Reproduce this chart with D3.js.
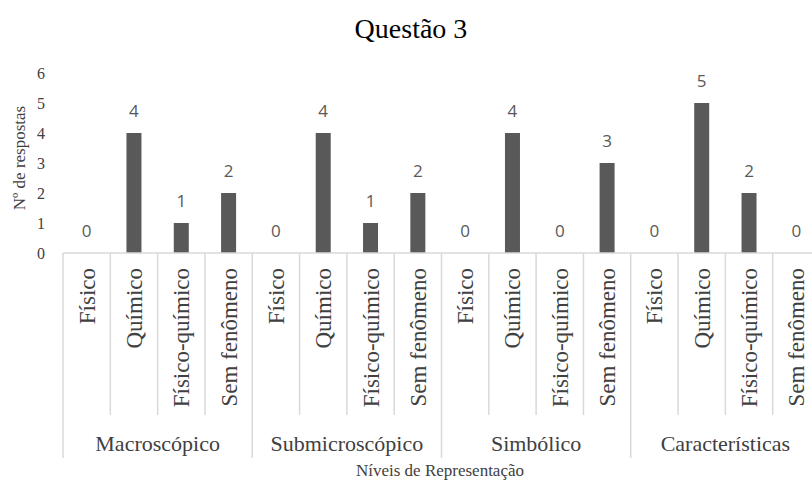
<!DOCTYPE html>
<html><head><meta charset="utf-8">
<script src="https://cdn.jsdelivr.net/npm/d3@7"></script>
<style>body{margin:0;background:#fff}svg{display:block}
.sf{font-family:"Liberation Serif","DejaVu Serif",serif}
.ss{font-family:"Open Sans","Liberation Sans",sans-serif}
</style>
</head><body><svg id="c" width="812" height="482"></svg>
<script>
const title = "Questão 3";
const groups = ["Macroscópico", "Submicroscópico", "Simbólico", "Características"];
const subcats = ["Físico", "Químico", "Físico-químico", "Sem fenômeno"];
const macroscopico = [0, 4, 1, 2];
const submicroscopico = [0, 4, 1, 2];
const simbolico = [0, 4, 0, 3];
const caracteristicas = [0, 5, 2, 0];
const yTicks = [0, 1, 2, 3, 4, 5, 6];
const yLabel = "Nº de respostas";
const xLabel = "Níveis de Representação";

const seriesByGroup = [macroscopico, submicroscopico, simbolico, caracteristicas];
const rows = [];
groups.forEach((g, gi) => subcats.forEach((s, si) => rows.push({key: gi + "|" + si, group: g, gi, sub: s, value: seriesByGroup[gi][si]})));

const svg = d3.select("#c");
const left = 63, right = 820, axisY = 253;
const x = d3.scaleBand().domain(rows.map(d => d.key)).range([left, right]).padding(0);
const y = d3.scaleLinear().domain([0, 6]).range([axisY, 73]);
const bw = x.bandwidth();
const grid = "#d9d9d9";

// title
svg.append("text").attr("class", "sf").attr("x", 411).attr("y", 38).attr("text-anchor", "middle")
  .attr("font-size", 28).attr("fill", "#000").text(title);

// y axis tick labels
const yAxis = d3.axisLeft(y).tickValues(yTicks).tickSize(0).tickPadding(0).tickFormat(d3.format("d"));
const ya = svg.append("g").attr("transform", "translate(45,0)").call(yAxis);
ya.attr("font-family", null).attr("font-size", null);
ya.select(".domain").remove();
ya.selectAll("text").attr("class", "sf").attr("font-size", 16).attr("fill", "#404040");

// y label
svg.append("text").attr("class", "sf").attr("transform", "translate(25,158) rotate(-90)").attr("text-anchor", "middle")
  .attr("font-size", 17).attr("fill", "#404040").text(yLabel);

// bars
const barW = 15;
svg.append("g").selectAll("rect").data(rows).join("rect")
  .attr("x", d => x(d.key) + bw / 2 - barW / 2).attr("width", barW)
  .attr("y", d => y(d.value)).attr("height", d => y(0) - y(d.value)).attr("fill", "#595959");

// value labels
svg.append("g").selectAll("text").data(rows).join("text").attr("class", "ss")
  .attr("x", d => x(d.key) + bw / 2).attr("y", d => y(d.value) - 16).attr("text-anchor", "middle")
  .attr("font-size", 17).attr("fill", "#595959").text(d => d.value);

// axis line
svg.append("line").attr("x1", left).attr("x2", right).attr("y1", axisY).attr("y2", axisY)
  .attr("stroke", grid).attr("stroke-width", 1.5);

// separators
const sep = svg.append("g").attr("stroke", grid).attr("stroke-width", 1.5);
rows.forEach((d, i) => {
  const xx = x(d.key);
  const isGroup = i % subcats.length === 0;
  sep.append("line").attr("x1", xx).attr("x2", xx).attr("y1", axisY).attr("y2", isGroup ? 458 : 415);
});
sep.append("line").attr("x1", right).attr("x2", right).attr("y1", axisY).attr("y2", 458);

// category labels
svg.append("g").selectAll("text").data(rows).join("text").attr("class", "sf")
  .attr("transform", d => `translate(${x(d.key) + bw / 2 + 8},268) rotate(-90)`)
  .attr("text-anchor", "end")
  .attr("font-size", 23).attr("fill", "#404040").text(d => d.sub);

// group labels
const gw = bw * subcats.length;
svg.append("g").selectAll("text").data(groups).join("text").attr("class", "sf")
  .attr("x", (d, i) => left + gw * i + gw / 2).attr("y", 451).attr("text-anchor", "middle")
  .attr("font-size", 22).attr("fill", "#404040").text(d => d);

// x label
svg.append("text").attr("class", "sf").attr("x", 440).attr("y", 476).attr("text-anchor", "middle")
  .attr("font-size", 17).attr("fill", "#404040").text(xLabel);
</script></body></html>
